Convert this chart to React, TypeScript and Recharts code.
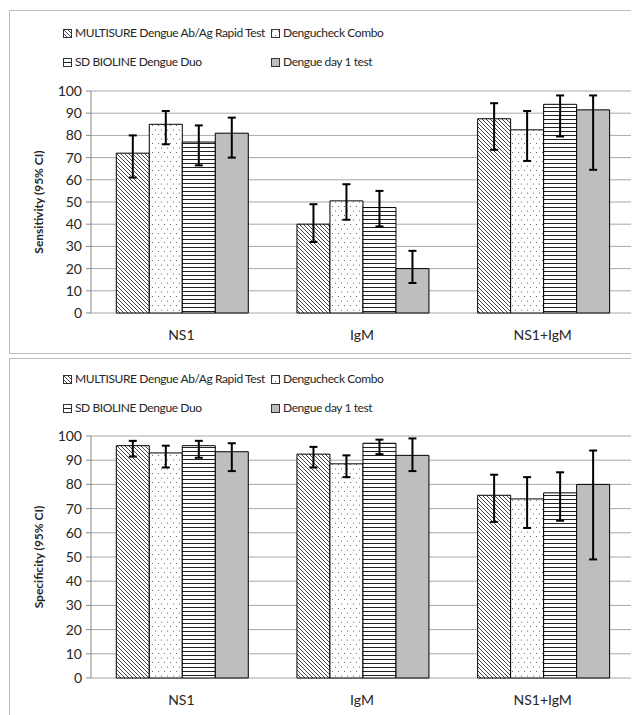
import React from 'react';
import { BarChart, Bar, XAxis, YAxis, CartesianGrid, ErrorBar } from 'recharts';

const categories = ['NS1', 'IgM', 'NS1+IgM'];
const seriesNames = ['MULTISURE Dengue Ab/Ag Rapid Test', 'Dengucheck Combo', 'SD BIOLINE Dengue Duo', 'Dengue day 1 test'];
const fills = ['url(#hatch)', 'url(#dots)', 'url(#hlines)', '#bebebe'];
const yTicks = [0, 10, 20, 30, 40, 50, 60, 70, 80, 90, 100];

// sensitivity (95% CI)
const sensMultisure = [72, 40, 87.5];
const sensMultisureLow = [61, 32, 73.5];
const sensMultisureHigh = [80, 49, 94.5];
const sensDengucheck = [85, 50.5, 82.5];
const sensDengucheckLow = [76, 42, 68.5];
const sensDengucheckHigh = [91, 58, 91];
const sensBioline = [77, 47.5, 94];
const sensBiolineLow = [66.5, 39, 79.5];
const sensBiolineHigh = [84.5, 55, 98];
const sensDay1 = [81, 20, 91.5];
const sensDay1Low = [70, 13.5, 64.5];
const sensDay1High = [88, 28, 98];

// specificity (95% CI)
const specMultisure = [96, 92.5, 75.5];
const specMultisureLow = [91.5, 87, 64.5];
const specMultisureHigh = [98, 95.5, 84];
const specDengucheck = [93, 88.5, 74];
const specDengucheckLow = [87, 83, 62];
const specDengucheckHigh = [96, 92, 83];
const specBioline = [96, 97, 76.5];
const specBiolineLow = [91, 92.5, 65];
const specBiolineHigh = [98, 98.5, 85];
const specDay1 = [93.5, 92, 80];
const specDay1Low = [85.5, 85.5, 49];
const specDay1High = [97, 99, 94];

type Series = { val: number[]; low: number[]; high: number[] };

const buildRows = (series: Series[]) =>
  categories.map((category, i) => {
    const row: any = { category, pos: i };
    series.forEach((s, k) => {
      row['s' + k] = s.val[i];
      row['e' + k] = [s.val[i] - s.low[i], s.high[i] - s.val[i]];
    });
    return row;
  });

const sensData = buildRows([
  { val: sensMultisure, low: sensMultisureLow, high: sensMultisureHigh },
  { val: sensDengucheck, low: sensDengucheckLow, high: sensDengucheckHigh },
  { val: sensBioline, low: sensBiolineLow, high: sensBiolineHigh },
  { val: sensDay1, low: sensDay1Low, high: sensDay1High },
]);

const specData = buildRows([
  { val: specMultisure, low: specMultisureLow, high: specMultisureHigh },
  { val: specDengucheck, low: specDengucheckLow, high: specDengucheckHigh },
  { val: specBioline, low: specBiolineLow, high: specBiolineHigh },
  { val: specDay1, low: specDay1Low, high: specDay1High },
]);

const font = 'Lato, "Liberation Sans", sans-serif';
const textColor = '#262626';

const Patterns = () => (
  <svg width={0} height={0} style={{ position: 'absolute' }}>
    <defs>
      <pattern id="hatch" patternUnits="userSpaceOnUse" width={4} height={4}>
        <rect width={4} height={4} fill="#fff" />
        <path d="M-1,-1 L5,5 M-1,3 L1,5 M3,-1 L5,1" stroke="#333" strokeWidth={0.9} />
      </pattern>
      <pattern id="dots" patternUnits="userSpaceOnUse" width={6} height={9}>
        <rect width={6} height={9} fill="#fff" />
        <circle cx={1.5} cy={2} r={0.6} fill="#555" />
        <circle cx={4.5} cy={6.5} r={0.6} fill="#555" />
      </pattern>
      <pattern id="hlines" patternUnits="userSpaceOnUse" width={4} height={4}>
        <rect width={4} height={4} fill="#fff" />
        <line x1={0} y1={0.5} x2={4} y2={0.5} stroke="#222" strokeWidth={1} />
      </pattern>
    </defs>
  </svg>
);

const Swatch = ({ fill }: { fill: string }) => (
  <svg width={9} height={9} style={{ position: 'absolute', left: -12, top: 4 }}>
    <rect x={0.5} y={0.5} width={8} height={8} fill={fill} stroke="#333" strokeWidth={1} />
  </svg>
);

const LegendBlock = ({ top }: { top: number }) => {
  const spots = [
    { left: 65, top: top },
    { left: 273, top: top },
    { left: 65, top: top + 29 },
    { left: 273, top: top + 29 },
  ];
  return (
    <>
      {seriesNames.map((name, k) => (
        <div
          key={name}
          style={{
            position: 'absolute',
            left: spots[k].left,
            top: spots[k].top,
            fontFamily: font,
            fontSize: 12,
            letterSpacing: -0.4,
            lineHeight: '16px',
            color: textColor,
            whiteSpace: 'nowrap',
          }}
        >
          <Swatch fill={fills[k]} />
          {name}
        </div>
      ))}
    </>
  );
};

const Panel = ({
  data,
  title,
  top,
  height,
  chartHeight,
  plotTop,
  axisHeight,
  legendTop,
}: {
  data: any[];
  title: string;
  top: number;
  height: number;
  chartHeight: number;
  plotTop: number;
  axisHeight: number;
  legendTop: number;
}) => (
  <div
    style={{
      position: 'absolute',
      left: 1,
      top,
      width: 660,
      height,
      border: '1px solid #bdbdbd',
      boxSizing: 'border-box',
      background: '#fff',
    }}
  >
    <LegendBlock top={legendTop} />
    <div style={{ position: 'absolute', left: 0, top: 0 }}>
      <BarChart
        width={640}
        height={chartHeight}
        data={data}
        margin={{ top: plotTop, right: 17, left: 0, bottom: 0 }}
        barCategoryGap="14%"
        barGap={0}
      >
        <CartesianGrid vertical={false} stroke="#a8a8a8" />
        <XAxis
          dataKey="category"
          height={axisHeight}
          tickLine={false}
          axisLine={false}
          tickMargin={11}
          tick={{ fill: textColor, fontSize: 14, fontFamily: font }}
        />
        <XAxis
          xAxisId="bounds"
          type="number"
          dataKey="pos"
          domain={[0, 3]}
          ticks={[0, 1, 2, 3]}
          height={0}
          tick={false}
          tickSize={5}
          stroke="#868686"
        />
        <YAxis
          width={81}
          domain={[0, 100]}
          ticks={yTicks}
          interval={0}
          tickSize={5}
          tickMargin={4}
          stroke="#868686"
          tick={{ fill: textColor, fontSize: 14, fontFamily: font }}
          label={{
            value: title,
            angle: -90,
            position: 'center',
            dx: -12,
            style: { fill: textColor, fontSize: 12, fontWeight: 700, fontFamily: font },
          }}
        />
        {seriesNames.map((name, k) => (
          <Bar key={name} dataKey={'s' + k} name={name} fill={fills[k]} stroke="#000" strokeWidth={1} isAnimationActive={false}>
            <ErrorBar dataKey={'e' + k} width={4} stroke="#000" strokeWidth={2} />
          </Bar>
        ))}
      </BarChart>
    </div>
  </div>
);

export default function App() {
  return (
    <div style={{ position: 'relative', width: 631, height: 707, overflow: 'hidden' }}>
      <Patterns />
      <Panel
        data={sensData}
        title="Sensitivity (95% CI)"
        top={2}
        height={344}
        chartHeight={342}
        plotTop={80}
        axisHeight={40}
        legendTop={14}
      />
      <Panel
        data={specData}
        title="Specificity (95% CI)"
        top={350}
        height={400}
        chartHeight={356}
        plotTop={77}
        axisHeight={37}
        legendTop={12}
      />
    </div>
  );
}
